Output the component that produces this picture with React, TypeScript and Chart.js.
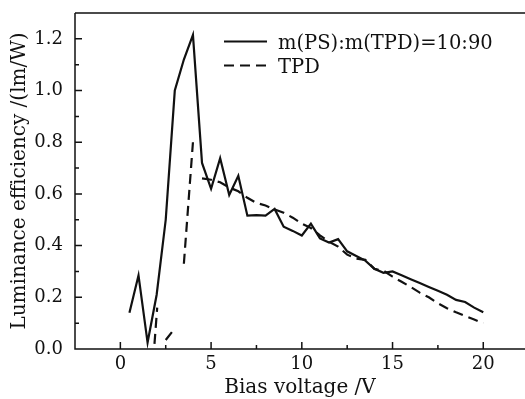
import React, { useEffect, useRef } from "react";
import { Chart, registerables } from "chart.js";

Chart.register(...registerables);

// ---- data ----
const solidV = [0.5, 1.0, 1.5, 2.0, 2.5, 3.0, 3.5, 4.0, 4.5, 5.0, 5.5, 6.0, 6.5, 7.0, 7.5, 8.0, 8.5, 9.0, 9.5, 10.0,
  10.5, 11.0, 11.5, 12.0, 12.5, 13.0, 13.5, 14.0, 14.5, 15.0, 15.5, 16.0, 16.5, 17.0, 17.5, 18.0, 18.5, 19.0, 19.5, 20.0];
const solidE = [0.14, 0.285, 0.025, 0.21, 0.50, 1.00, 1.12, 1.215, 0.72, 0.62, 0.738, 0.596, 0.67, 0.516, 0.518, 0.516, 0.542, 0.473, 0.457, 0.439,
  0.485, 0.428, 0.412, 0.425, 0.378, 0.36, 0.342, 0.31, 0.295, 0.30, 0.285, 0.27, 0.255, 0.24, 0.225, 0.21, 0.19, 0.182, 0.16, 0.142];

const tpdV = [1.88, 2.03, 2.2, 2.5, 3.0, 3.2, 3.5, 4.0, 4.2, 4.5, 5.0, 5.5, 6.0, 6.5, 7.0, 7.5, 8.0, 8.5, 9.0, 9.5, 10.0,
  10.5, 11.0, 11.5, 12.0, 12.5, 13.0, 13.5, 14.0, 14.5, 15.0, 15.5, 16.0, 16.5, 17.0, 17.5, 18.0, 18.5, 19.0, 19.5, 20.0];
const tpdE = [0.02, 0.16, null, 0.035, 0.08, null, 0.33, 0.80, null, 0.66, 0.655, 0.645, 0.625, 0.61, 0.585, 0.565, 0.555, 0.54, 0.527, 0.508, 0.485,
  0.468, 0.44, 0.415, 0.396, 0.365, 0.35, 0.345, 0.31, 0.303, 0.28, 0.26, 0.24, 0.218, 0.20, 0.177, 0.158, 0.142, 0.128, 0.114, 0.10];

const seriesLabels = ["m(PS):m(TPD)=10:90", "TPD"];
const xTicks = [0, 5, 10, 15, 20];
const xMinor = [2.5, 7.5, 12.5, 17.5];
const yTicks = [0, 0.2, 0.4, 0.6, 0.8, 1.0, 1.2];
const yMinor = [0.1, 0.3, 0.5, 0.7, 0.9, 1.1];
const xTitle = "Bias voltage /V";
const yTitle = "Luminance efficiency /(lm/W)";

const FONT = "'DejaVu Serif', serif";
const INK = "#111";

const framePlugin = {
  id: "frame",
  afterDraw(chart: any) {
    const { ctx, chartArea: a, scales } = chart;
    const x = scales.x, y = scales.y;
    ctx.save();
    ctx.strokeStyle = INK;
    ctx.lineWidth = 1.5;
    ctx.setLineDash([]);
    ctx.beginPath();
    ctx.moveTo(a.left, a.top);
    ctx.lineTo(a.right + 2, a.top);
    ctx.moveTo(a.left, a.top);
    ctx.lineTo(a.left, a.bottom);
    ctx.lineTo(a.right + 2, a.bottom);
    xTicks.forEach((v) => { const p = x.getPixelForValue(v); ctx.moveTo(p, a.bottom); ctx.lineTo(p, a.bottom - 7); });
    xMinor.forEach((v) => { const p = x.getPixelForValue(v); ctx.moveTo(p, a.bottom); ctx.lineTo(p, a.bottom - 4); });
    yTicks.forEach((v) => { const p = y.getPixelForValue(v); ctx.moveTo(a.left, p); ctx.lineTo(a.left + 7, p); });
    yMinor.forEach((v) => { const p = y.getPixelForValue(v); ctx.moveTo(a.left, p); ctx.lineTo(a.left + 4, p); });
    ctx.stroke();

    // legend
    const ds = chart.data.datasets;
    const rows = [41.5, 65.5];
    ds.forEach((d: any, i: number) => {
      const yy = rows[i];
      ctx.beginPath();
      ctx.lineWidth = d.borderWidth;
      ctx.strokeStyle = d.borderColor;
      ctx.setLineDash(d.borderDash || []);
      ctx.moveTo(224, yy);
      ctx.lineTo(267, yy);
      ctx.stroke();
      ctx.setLineDash([]);
      ctx.fillStyle = INK;
      ctx.font = `19.5px ${FONT}`;
      ctx.textBaseline = "middle";
      ctx.textAlign = "left";
      ctx.fillText(d.label, 278, yy + 2);
    });
    ctx.restore();
  },
};

export default function App() {
  const ref = useRef<HTMLCanvasElement | null>(null);
  useEffect(() => {
    if (!ref.current) return;
    const chart = new Chart(ref.current, {
      type: "line",
      data: {
        datasets: [
          {
            label: seriesLabels[0],
            data: solidV.map((v, i) => ({ x: v, y: solidE[i] })),
            borderColor: INK,
            borderWidth: 2.2,
            pointRadius: 0,
            tension: 0,
            fill: false,
          },
          {
            label: seriesLabels[1],
            data: tpdV.map((v, i) => ({ x: v, y: tpdE[i] })),
            borderColor: INK,
            borderWidth: 2.2,
            borderDash: [10, 6],
            pointRadius: 0,
            tension: 0,
            spanGaps: false,
            fill: false,
          },
        ],
      } as any,
      options: {
        responsive: false,
        animation: false,
        layout: { padding: { top: 13, right: 0, left: 0, bottom: 0 } },
        plugins: { legend: { display: false }, tooltip: { enabled: false } },
        scales: {
          x: {
            type: "linear",
            min: -2.5,
            max: 22.3,
            afterBuildTicks: (s: any) => { s.ticks = xTicks.map((v) => ({ value: v })); },
            afterFit: (s: any) => { s.height = 50; s.paddingLeft = 0; s.paddingRight = 0; },
            grid: { display: false, drawTicks: false },
            border: { display: false },
            ticks: { color: INK, font: { family: FONT, size: 18 }, padding: 5, maxRotation: 0 },
            title: { display: true, text: xTitle, color: INK, font: { family: FONT, size: 20 }, padding: { top: 0, bottom: -1 } },
          },
          y: {
            type: "linear",
            min: 0,
            max: 1.3,
            afterBuildTicks: (s: any) => { s.ticks = yTicks.map((v) => ({ value: v })); },
            afterFit: (s: any) => { s.width = 75; s.paddingTop = 0; s.paddingBottom = 0; },
            grid: { display: false, drawTicks: false },
            border: { display: false },
            ticks: { color: INK, font: { family: FONT, size: 18 }, padding: 12, callback: (v: any) => Number(v).toFixed(1) },
            title: { display: true, text: yTitle, color: INK, font: { family: FONT, size: 20 }, padding: { top: 8, bottom: 2 } },
          },
        },
      } as any,
      plugins: [framePlugin],
    });
    return () => chart.destroy();
  }, []);
  return (
    <div style={{ position: "fixed", left: 0, top: 0, width: 525, height: 399, background: "#fff" }}>
      <canvas ref={ref} width={525} height={399} style={{ display: "block" }} />
    </div>
  );
}
